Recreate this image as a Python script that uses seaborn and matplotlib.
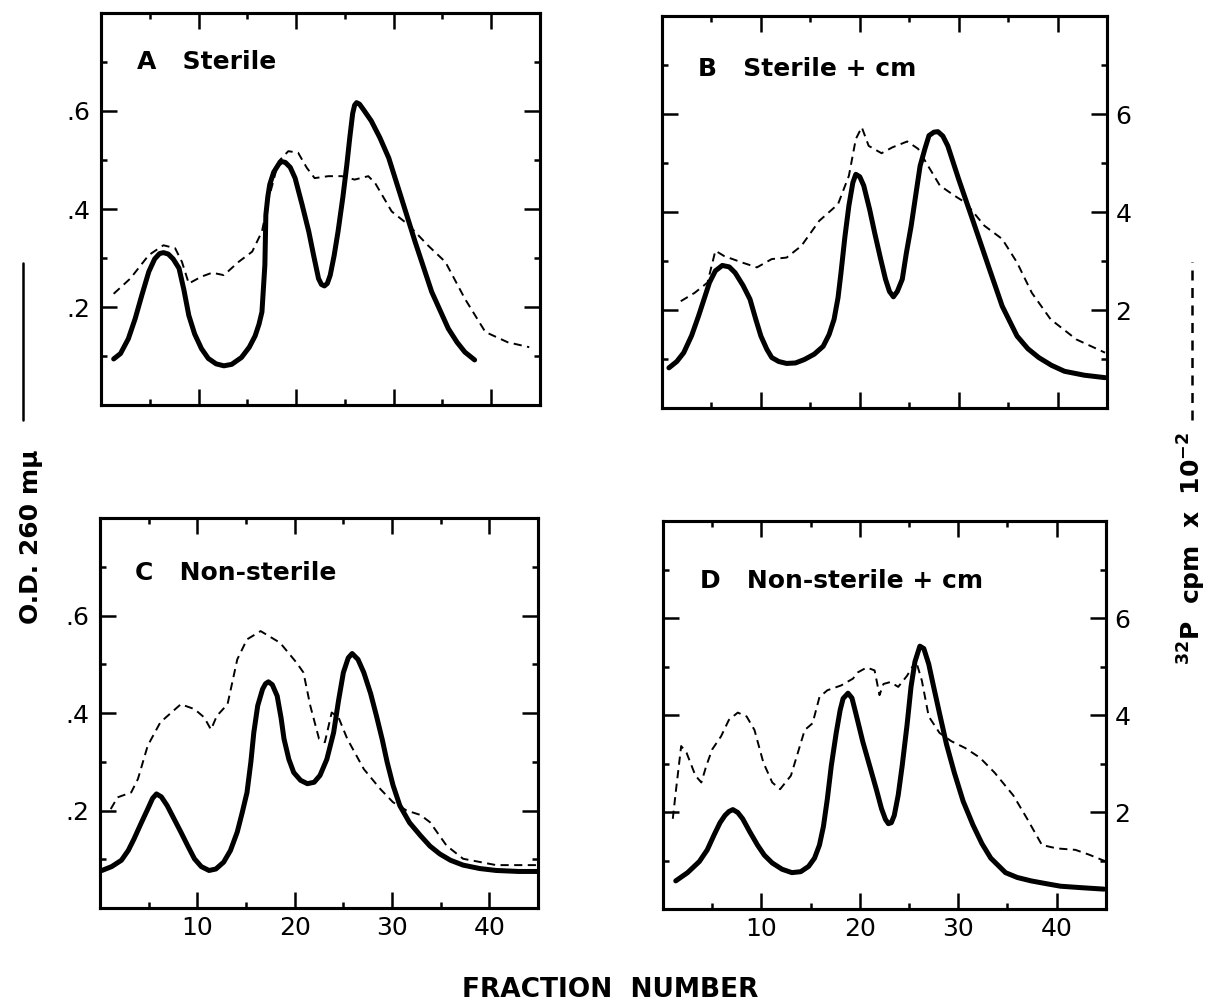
import numpy as np
import pandas as pd
import matplotlib
matplotlib.use('Agg')
import matplotlib.pyplot as plt
from matplotlib.lines import Line2D
from matplotlib.ticker import FixedLocator
import seaborn as sns

# ---- data (fraction number vs value) ----
# A  Sterile
a_od_x = [1.3, 2.0, 2.8, 3.5, 4.2, 4.9, 5.5, 6.0, 6.4, 6.9, 7.4, 8.0, 8.5, 9.0, 9.6, 10.3,
          11.0, 11.8, 12.6, 13.4, 14.4, 15.2, 15.8, 16.2, 16.5, 16.8, 16.9, 17.1, 17.3, 17.7,
          18.2, 18.5, 18.9, 19.4, 19.9, 20.6, 21.3, 21.8, 22.3, 22.6, 22.9, 23.2, 23.5, 23.9,
          24.3, 24.8, 25.2, 25.5, 25.8, 26.0, 26.2, 26.5, 26.9, 27.7, 28.6, 29.5, 30.8, 32.2,
          33.9, 35.6, 36.5, 37.3, 38.3]
a_od_y = [0.094, 0.105, 0.135, 0.176, 0.225, 0.272, 0.298, 0.309, 0.311, 0.308, 0.298, 0.279,
          0.235, 0.183, 0.145, 0.115, 0.095, 0.084, 0.080, 0.083, 0.097, 0.118, 0.141, 0.165,
          0.190, 0.286, 0.388, 0.425, 0.450, 0.475, 0.491, 0.497, 0.495, 0.485, 0.463, 0.410,
          0.354, 0.305, 0.258, 0.246, 0.243, 0.248, 0.265, 0.305, 0.354, 0.425, 0.490, 0.545,
          0.595, 0.612, 0.617, 0.614, 0.603, 0.580, 0.545, 0.504, 0.422, 0.333, 0.231, 0.156,
          0.128, 0.108, 0.092]
a_cpm_x = [1.3, 3.0, 4.9, 6.4, 7.6, 8.3, 9.0, 10.3, 11.4, 12.6, 14.1, 15.5, 16.5, 17.2, 18.2,
           19.2, 20.2, 21.1, 21.9, 23.3, 24.7, 26.0, 27.4, 28.1, 29.8, 31.5, 33.5, 35.3, 37.3,
           39.4, 41.7, 43.9]
a_cpm_y = [2.27, 2.58, 3.06, 3.26, 3.20, 2.92, 2.48, 2.62, 2.70, 2.65, 2.92, 3.13, 3.54, 4.22,
           4.97, 5.18, 5.15, 4.84, 4.63, 4.67, 4.67, 4.60, 4.67, 4.53, 3.95, 3.68, 3.26, 2.92,
           2.17, 1.49, 1.28, 1.18]

# B  Sterile + cm
b_od_x = [0.7, 1.5, 2.2, 3.0, 3.7, 4.3, 4.8, 5.4, 6.1, 6.8, 7.4, 8.2, 8.9, 9.5, 10.0, 10.6,
          11.1, 11.8, 12.6, 13.5, 14.4, 15.4, 16.3, 16.9, 17.4, 17.8, 18.1, 18.5, 18.9, 19.3,
          19.6, 20.0, 20.4, 21.0, 21.5, 22.1, 22.6, 23.0, 23.4, 23.8, 24.3, 24.7, 25.2, 25.7,
          26.1, 26.6, 27.0, 27.5, 27.9, 28.4, 28.9, 30.0, 31.5, 33.0, 34.4, 35.9, 37.0, 38.1,
          39.4, 40.7, 42.7, 44.8]
b_od_y = [0.082, 0.095, 0.113, 0.148, 0.188, 0.225, 0.256, 0.280, 0.291, 0.288, 0.276, 0.250,
          0.222, 0.180, 0.147, 0.120, 0.103, 0.095, 0.091, 0.092, 0.099, 0.110, 0.126, 0.150,
          0.181, 0.225, 0.276, 0.350, 0.413, 0.460, 0.477, 0.472, 0.454, 0.405, 0.358, 0.305,
          0.263, 0.238, 0.227, 0.238, 0.263, 0.315, 0.372, 0.440, 0.494, 0.530, 0.556, 0.563,
          0.564, 0.555, 0.535, 0.467, 0.379, 0.290, 0.208, 0.147, 0.121, 0.103, 0.087, 0.075,
          0.067, 0.062]
b_cpm_x = [1.9, 3.3, 4.6, 5.4, 6.3, 8.1, 9.6, 11.1, 12.6, 14.1, 15.9, 17.8, 18.9, 19.6, 20.2,
           20.9, 22.2, 23.3, 24.8, 25.9, 26.7, 28.1, 29.6, 30.7, 32.6, 34.4, 35.9, 37.4, 39.3,
           41.9, 44.8]
b_cpm_y = [2.18, 2.35, 2.56, 3.21, 3.10, 2.97, 2.87, 3.04, 3.07, 3.31, 3.82, 4.16, 4.74, 5.49,
           5.73, 5.35, 5.20, 5.32, 5.44, 5.29, 5.01, 4.54, 4.33, 4.19, 3.72, 3.45, 2.97, 2.35,
           1.81, 1.40, 1.13]

# C  Non-sterile
c_od_x = [0.2, 1.2, 2.2, 2.9, 3.5, 4.2, 4.9, 5.4, 5.8, 6.3, 6.9, 7.6, 8.3, 9.0, 9.7, 10.4,
          11.2, 11.9, 12.7, 13.4, 14.1, 14.6, 15.1, 15.5, 15.8, 16.2, 16.7, 17.0, 17.3, 17.7,
          18.2, 18.6, 18.9, 19.4, 19.9, 20.6, 21.3, 22.0, 22.6, 23.3, 24.0, 24.5, 25.0, 25.5,
          25.9, 26.5, 27.1, 27.8, 28.4, 29.0, 29.5, 30.1, 30.8, 31.8, 32.9, 33.9, 34.9, 36.0,
          37.3, 39.0, 40.7, 43.0, 45.0]
c_od_y = [0.077, 0.085, 0.098, 0.118, 0.142, 0.173, 0.203, 0.225, 0.234, 0.228, 0.210, 0.183,
          0.156, 0.128, 0.101, 0.085, 0.077, 0.080, 0.094, 0.118, 0.156, 0.195, 0.237, 0.300,
          0.360, 0.415, 0.449, 0.460, 0.464, 0.458, 0.435, 0.390, 0.347, 0.305, 0.278, 0.262,
          0.255, 0.258, 0.272, 0.305, 0.360, 0.425, 0.483, 0.513, 0.522, 0.510, 0.483, 0.440,
          0.394, 0.345, 0.299, 0.252, 0.210, 0.175, 0.149, 0.127, 0.111, 0.098, 0.088, 0.081,
          0.077, 0.075, 0.075]
c_cpm_x = [1.1, 1.8, 3.2, 3.9, 4.9, 6.2, 8.3, 9.7, 10.7, 11.4, 12.0, 13.1, 14.1, 15.1, 16.5,
           18.5, 20.2, 20.9, 21.6, 22.5, 23.1, 23.8, 24.5, 25.4, 27.1, 28.8, 30.1, 31.5, 32.9,
           33.9, 35.6, 37.3, 40.7, 45.0]
c_cpm_y = [2.03, 2.27, 2.37, 2.65, 3.33, 3.81, 4.18, 4.08, 3.91, 3.66, 3.94, 4.18, 5.10, 5.51,
           5.68, 5.44, 5.03, 4.83, 4.15, 3.47, 3.40, 4.01, 3.91, 3.47, 2.85, 2.44, 2.17, 2.00,
           1.91, 1.76, 1.28, 1.01, 0.88, 0.88]

# D  Non-sterile + cm
d_od_x = [1.3, 2.5, 3.7, 4.5, 5.2, 5.8, 6.3, 6.7, 7.1, 7.6, 8.1, 8.8, 9.6, 10.3, 11.1, 12.1,
          13.1, 14.0, 14.8, 15.4, 15.9, 16.3, 16.7, 17.1, 17.6, 18.0, 18.3, 18.8, 19.2, 19.6,
          20.3, 21.1, 21.7, 22.2, 22.6, 22.9, 23.2, 23.5, 23.9, 24.3, 24.8, 25.2, 25.6, 26.1,
          26.5, 27.0, 27.5, 28.1, 28.8, 29.6, 30.5, 31.5, 32.4, 33.3, 34.8, 36.0, 37.4, 39.0,
          40.4, 42.5, 44.8]
d_od_y = [0.058, 0.075, 0.098, 0.122, 0.153, 0.178, 0.193, 0.201, 0.205, 0.199, 0.186, 0.160,
          0.132, 0.111, 0.095, 0.082, 0.075, 0.077, 0.088, 0.105, 0.132, 0.170, 0.227, 0.295,
          0.363, 0.410, 0.434, 0.445, 0.435, 0.403, 0.345, 0.288, 0.245, 0.207, 0.185, 0.176,
          0.178, 0.193, 0.235, 0.295, 0.380, 0.458, 0.510, 0.542, 0.537, 0.505, 0.458, 0.403,
          0.340, 0.281, 0.222, 0.173, 0.135, 0.105, 0.075, 0.065, 0.058, 0.052, 0.047, 0.044,
          0.041]
d_cpm_x = [1.0, 1.3, 1.85, 2.4, 3.3, 3.9, 4.4, 5.0, 5.9, 6.7, 7.6, 8.5, 9.3, 10.2, 11.1, 11.9,
           13.0, 13.7, 14.4, 15.2, 15.9, 16.7, 18.1, 19.3, 19.8, 20.7, 21.5, 22.0, 22.4, 23.1,
           23.9, 24.8, 25.7, 26.3, 27.0, 28.1, 29.3, 30.7, 32.2, 33.7, 35.6, 37.0, 38.5, 40.0,
           41.9, 43.3, 45.0]
d_cpm_y = [1.86, 2.41, 3.36, 3.22, 2.75, 2.61, 2.95, 3.29, 3.56, 3.90, 4.05, 3.97, 3.69, 3.02,
           2.61, 2.47, 2.75, 3.22, 3.69, 3.83, 4.37, 4.51, 4.61, 4.75, 4.88, 4.98, 4.92, 4.41,
           4.64, 4.68, 4.58, 4.81, 5.12, 4.71, 3.97, 3.63, 3.46, 3.32, 3.12, 2.81, 2.34, 1.86,
           1.32, 1.25, 1.22, 1.12, 0.98]

panel_titles = ['A   Sterile', 'B   Sterile + cm', 'C   Non-sterile', 'D   Non-sterile + cm']
od_ticklabels = ['.2', '.4', '.6']
cpm_ticklabels = ['2', '4', '6']
x_ticklabels = ['10', '20', '30', '40']

panels = [
    (a_od_x, a_od_y, a_cpm_x, a_cpm_y),
    (b_od_x, b_od_y, b_cpm_x, b_cpm_y),
    (c_od_x, c_od_y, c_cpm_x, c_cpm_y),
    (d_od_x, d_od_y, d_cpm_x, d_cpm_y),
]

sns.set_theme(style='white')
plt.rcParams['font.family'] = ['DejaVu Sans']
plt.rcParams['text.color'] = 'black'
plt.rcParams['axes.labelcolor'] = 'black'
plt.rcParams['xtick.color'] = 'black'
plt.rcParams['ytick.color'] = 'black'

fig = plt.figure(figsize=(12.08, 10.07), dpi=100)

positions = [
    [0.0836, 0.5978, 0.3634, 0.3893],
    [0.5480, 0.5948, 0.3684, 0.3893],
    [0.0828, 0.0983, 0.3626, 0.3873],
    [0.5488, 0.0973, 0.3667, 0.3853],
]
title_pos = [(0.082, 0.875), (0.081, 0.865), (0.080, 0.860), (0.083, 0.845)]

for k, (od_x, od_y, cpm_x, cpm_y) in enumerate(panels):
    ax = fig.add_axes(positions[k])
    ax2 = ax.twinx()

    df_od = pd.DataFrame({'fraction': od_x, 'od': od_y})
    df_cpm = pd.DataFrame({'fraction': cpm_x, 'cpm': cpm_y})
    sns.lineplot(data=df_od, x='fraction', y='od', ax=ax, color='black', linewidth=3.6,
                 sort=False, estimator=None, solid_capstyle='round', solid_joinstyle='round')
    sns.lineplot(data=df_cpm, x='fraction', y='cpm', ax=ax2, color='black', linewidth=1.4,
                 sort=False, estimator=None)
    ax2.lines[0].set_dashes([4.2, 2.8])

    ax.set_xlim(0, 45)
    ax.set_ylim(0, 0.8)
    ax2.set_ylim(0, 8)

    ax.xaxis.set_major_locator(FixedLocator([10, 20, 30, 40]))
    ax.xaxis.set_minor_locator(FixedLocator([5, 15, 25, 35]))
    ax.yaxis.set_major_locator(FixedLocator([0.2, 0.4, 0.6]))
    ax.yaxis.set_minor_locator(FixedLocator([0.1, 0.3, 0.5, 0.7]))
    ax2.yaxis.set_major_locator(FixedLocator([2, 4, 6]))
    ax2.yaxis.set_minor_locator(FixedLocator([1, 3, 5, 7]))

    for a in (ax, ax2):
        a.set_xlabel('')
        a.set_ylabel('')
        for sp in a.spines.values():
            sp.set_linewidth(2.2)
            sp.set_color('black')
        a.tick_params(which='major', direction='in', length=11.5, width=1.8, colors='black',
                      labelsize=18, pad=6)
        a.tick_params(which='minor', direction='in', length=4.5, width=1.8, colors='black')

    ax.tick_params(axis='x', which='both', top=True, bottom=True)
    ax.tick_params(axis='y', which='both', left=True, right=False)
    ax2.tick_params(axis='y', which='both', right=True, left=False)

    ax.set_yticklabels(od_ticklabels)
    ax2.set_yticklabels(cpm_ticklabels)
    ax.set_xticklabels(x_ticklabels)

    if k in (0, 1):
        ax.tick_params(axis='x', labelbottom=False)
    if k in (1, 3):
        ax.tick_params(axis='y', labelleft=False)
    else:
        ax2.tick_params(axis='y', labelright=False)
    ax.tick_params(axis='y', pad=8)

    ax.text(title_pos[k][0], title_pos[k][1], panel_titles[k], transform=ax.transAxes,
            fontsize=18, fontweight='bold', ha='left', va='center')

# shared labels
fig.text(0.505, 0.017, 'FRACTION  NUMBER', ha='center', va='center', fontsize=19,
         fontweight='bold')

fig.text(0.026, 0.467, 'O.D. 260 m\u03bc', rotation=90, ha='center', va='center',
         fontsize=18, fontweight='bold')
fig.add_artist(Line2D([0.019, 0.019], [1 - 420 / 1007, 1 - 263 / 1007], color='black',
                      linewidth=1.8, transform=fig.transFigure))

fig.text(0.987, 0.455, r'$^{\mathbf{32}}$P  cpm  x  10$^{\mathbf{-2}}$', rotation=90,
         ha='center', va='center', fontsize=18, fontweight='bold')
fig.add_artist(Line2D([0.987, 0.987], [1 - 420 / 1007, 1 - 262 / 1007], color='black',
                      linewidth=1.8, linestyle=(0, (4, 3)), transform=fig.transFigure))

fig.savefig('out.png', dpi=100, facecolor='white')
